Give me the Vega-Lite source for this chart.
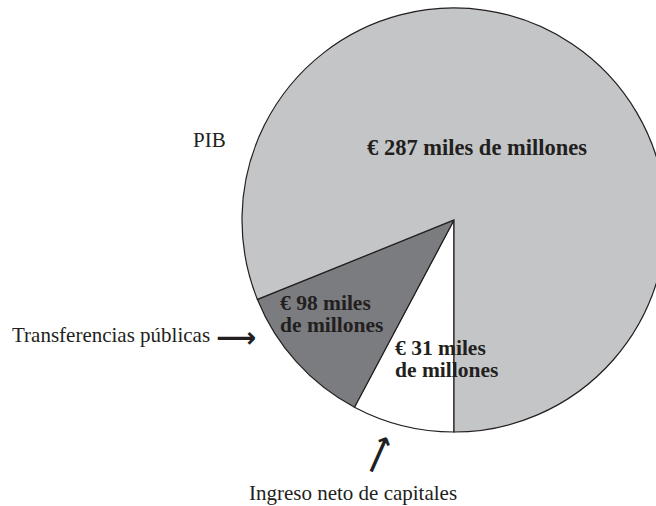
{
  "$schema": "https://vega.github.io/schema/vega-lite/v6.json",
  "autosize": "none",
  "padding": {"left": 252, "top": 0, "right": 0, "bottom": 66},
  "width": 404,
  "height": 440,
  "background": "#ffffff",
  "view": {"stroke": null},
  "data": {
    "values": [
      {"concepto": "Ingreso neto de capitales", "monto": 31, "grados": 28, "orden": 1, "etiqueta": "€ 31 miles\nde millones"},
      {"concepto": "Transferencias públicas", "monto": 98, "grados": 40, "orden": 2, "etiqueta": "€ 98 miles\nde millones"},
      {"concepto": "PIB", "monto": 287, "grados": 292, "orden": 3, "etiqueta": "€ 287 miles de millones"}
    ]
  },
  "layer": [
    {
      "mark": {"type": "arc", "outerRadius": 212, "stroke": "#231f20", "strokeWidth": 1.2},
      "encoding": {
        "theta": {"field": "grados", "type": "quantitative", "stack": true, "scale": {"domain": [0, 360], "range": [3.14159265, 9.42477796]}},
        "order": {"field": "orden", "type": "quantitative", "sort": "ascending"},
        "color": {
          "field": "concepto", "type": "nominal", "legend": null,
          "scale": {"domain": ["Ingreso neto de capitales", "Transferencias públicas", "PIB"], "range": ["#ffffff", "#7b7c7f", "#c4c5c7"]}
        }
      }
    },
    {
      "transform": [{"filter": "datum.concepto === 'PIB'"}],
      "mark": {"type": "text", "font": "Liberation Serif", "fontWeight": "bold", "fontSize": 22.5, "color": "#231f20", "align": "center", "baseline": "alphabetic", "dx": 23, "dy": -65},
      "encoding": {"text": {"field": "etiqueta"}}
    },
    {
      "transform": [{"filter": "datum.concepto === 'Transferencias públicas'"}],
      "mark": {"type": "text", "font": "Liberation Serif", "fontWeight": "bold", "fontSize": 21.5, "color": "#231f20", "align": "left", "baseline": "alphabetic", "lineBreak": "\n", "lineHeight": 22, "dx": -174, "dy": 90},
      "encoding": {"text": {"field": "etiqueta"}}
    },
    {
      "transform": [{"filter": "datum.concepto === 'Ingreso neto de capitales'"}],
      "mark": {"type": "text", "font": "Liberation Serif", "fontWeight": "bold", "fontSize": 21.5, "color": "#231f20", "align": "left", "baseline": "alphabetic", "lineBreak": "\n", "lineHeight": 22, "dx": -59, "dy": 135},
      "encoding": {"text": {"field": "etiqueta"}}
    },
    {
      "transform": [{"filter": "datum.concepto === 'PIB'"}],
      "mark": {"type": "text", "font": "Liberation Serif", "fontSize": 21, "color": "#231f20", "align": "left", "baseline": "alphabetic", "dx": -261, "dy": -73},
      "encoding": {"text": {"field": "concepto"}}
    },
    {
      "transform": [{"filter": "datum.concepto === 'Transferencias públicas'"}],
      "mark": {"type": "text", "font": "Liberation Serif", "fontSize": 21, "color": "#231f20", "align": "left", "baseline": "alphabetic", "dx": -442, "dy": 122},
      "encoding": {"text": {"field": "concepto"}}
    },
    {
      "transform": [{"filter": "datum.concepto === 'Ingreso neto de capitales'"}],
      "mark": {"type": "text", "font": "Liberation Serif", "fontSize": 21, "color": "#231f20", "align": "center", "baseline": "alphabetic", "dx": -101, "dy": 280},
      "encoding": {"text": {"field": "concepto"}}
    },
    {
      "transform": [{"filter": "datum.concepto === 'Transferencias públicas'"}],
      "mark": {"type": "text", "font": "DejaVu Sans", "fontWeight": "bold", "fontSize": 28, "color": "#231f20", "align": "center", "baseline": "middle", "dx": -218, "dy": 119},
      "encoding": {"text": {"value": "⟶"}}
    },
    {
      "transform": [{"filter": "datum.concepto === 'Ingreso neto de capitales'"}],
      "mark": {"type": "text", "font": "DejaVu Sans", "fontWeight": "bold", "fontSize": 28, "color": "#231f20", "align": "center", "baseline": "middle", "angle": -66, "dx": -245, "dy": 27.5},
      "encoding": {"text": {"value": "⟶"}}
    }
  ]
}
